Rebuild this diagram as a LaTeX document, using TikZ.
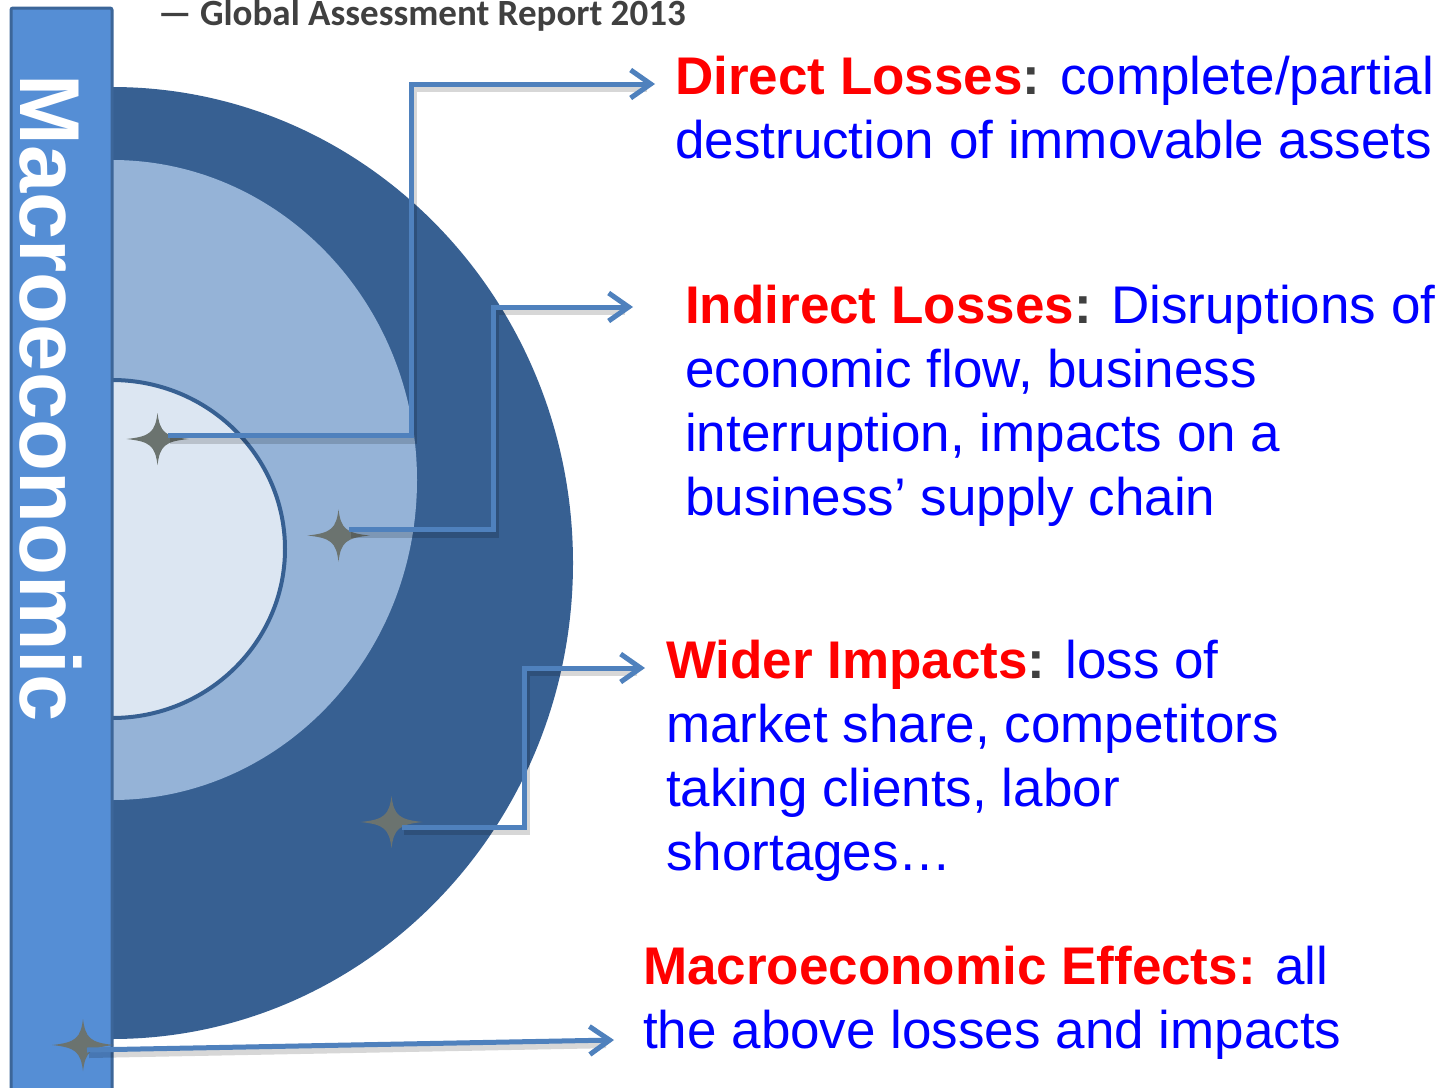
\documentclass[tikz,border=0pt]{standalone}
\usepackage{fontspec}
\setmainfont{Liberation Sans}
\newfontfamily\titlefont{Carlito}
\usetikzlibrary{arrows.meta}

\definecolor{ringdark}{HTML}{376092}
\definecolor{ringmid}{HTML}{95B3D7}
\definecolor{ringcore}{HTML}{DCE6F2}
\definecolor{barfill}{HTML}{558ED5}
\definecolor{barline}{HTML}{3C6699}
\definecolor{linkblue}{HTML}{4F81BD}
\definecolor{sparkgray}{HTML}{6B736F}
\definecolor{inkgray}{HTML}{404040}
\definecolor{headred}{HTML}{FF0000}
\definecolor{bodyblue}{HTML}{0000FF}

\newcommand\headtxt[1]{\textcolor{headred}{\bfseries #1}}
\newcommand\graycolon{\textcolor{inkgray}{\bfseries :}}

\begin{document}
\begin{tikzpicture}[x=1pt,y=-1pt,
  link/.style={draw=linkblue,line width=5pt,
    -{Straight Barb[length=20pt,width=28pt]}},
  linkshade/.style={draw=black,opacity=#1,line width=8pt,
    shorten >=10pt,transform canvas={shift={(2pt,-4pt)}}},
  label/.style={anchor=base west,inner sep=0pt,text=bodyblue,
    font=\fontsize{53}{64}\selectfont},
  pics/sparkle/.style={code={
    \fill[sparkgray] (0,-26) .. controls (2.5,-7) and (7,-2.5) .. (31,0)
      .. controls (7,2.5) and (2.5,7) .. (0,26)
      .. controls (-2.5,7) and (-7,2.5) .. (-31,0)
      .. controls (-7,-2.5) and (-2.5,-7) .. cycle;}}]

% page
\useasboundingbox (0,0) rectangle (1443,1087);
\fill[white] (0,0) rectangle (1443,1087);

% nested half-discs
\fill[ringdark] (112,87) arc[start angle=90,end angle=-90,
  x radius=461pt,y radius=476pt] -- cycle;
\fill[ringmid] (112,160) arc[start angle=90,end angle=-90,
  x radius=305pt,y radius=320pt] -- cycle;
\fill[ringcore] (112,380) arc[start angle=90,end angle=-90,
  x radius=173pt,y radius=169pt] -- cycle;
\draw[ringdark,line width=4pt] (112,380) arc[start angle=90,end angle=-90,
  x radius=173pt,y radius=169pt];

% vertical bar
\draw[barline,fill=barfill,line width=3pt,rounded corners=2pt]
  (11,8) rectangle (112,1100);
\node[rotate=-90,inner sep=0pt,text=white,
  font=\fontsize{85}{85}\selectfont\bfseries] (bartext) at (51,398) {Macroeconomic};

% title
\node[anchor=base west,inner sep=0pt,text=inkgray,
  font=\titlefont\bfseries\fontsize{37}{44}\selectfont] (title) at (158,25)
  {— Global Assessment Report 2013};

% markers
\coordinate (s1) at (157.5,439);
\coordinate (s2) at (338.5,535.5);
\coordinate (s3) at (391.5,822);
\coordinate (s4) at (83,1045);
\pic at (s1) {sparkle};
\pic at (s2) {sparkle};
\pic at (s3) {sparkle};
\pic at (s4) {sparkle};

% connector ends
\coordinate (a1) at (168,435.5);
\coordinate (t1) at (655,84);
\coordinate (a2) at (349,529.5);
\coordinate (t2) at (633,307);
\coordinate (a3) at (402,827);
\coordinate (t3) at (645,668);
\coordinate (a4) at (87,1050);
\coordinate (t4) at (614,1040);

% connector shadows
\foreach \o in {0.07,0.09}{
\draw[linkshade=\o] (a1) -- (411,435.5) -- (411,84) -- (t1);
\draw[linkshade=\o] (a2) -- (493,529.5) -- (493,307) -- (t2);
\draw[linkshade=\o] (a3) -- (524,827) -- (524,668) -- (t3);
\draw[linkshade=\o] (a4) -- (t4);
}

% connectors
\draw[link] (a1) -- (411,435.5) -- (411,84) -- (t1);
\draw[link] (a2) -- (493,529.5) -- (493,307) -- (t2);
\draw[link] (a3) -- (524,827) -- (524,668) -- (t3);
\draw[link] (a4) -- (t4);

% descriptions
\node[label] (direct) at (675,94) {\parbox[t]{800pt}{\raggedright
  \headtxt{Direct Losses}\graycolon{} complete/partial\\
  destruction of immovable assets}};
\node[label] (indirect) at (685,323) {\parbox[t]{800pt}{\raggedright
  \headtxt{Indirect Losses}\graycolon{} Disruptions of\\
  economic flow, business\\
  interruption, impacts on a\\
  business’ supply chain}};
\node[label] (wider) at (666,678) {\parbox[t]{800pt}{\raggedright
  \headtxt{Wider Impacts}\graycolon{} loss of\\
  market share, competitors\\
  taking clients, labor\\
  shortages…}};
\node[label] (macro) at (643,984) {\parbox[t]{800pt}{\raggedright
  \headtxt{Macroeconomic Effects:} all\\
  the above losses and impacts}};
\end{tikzpicture}
\end{document}
